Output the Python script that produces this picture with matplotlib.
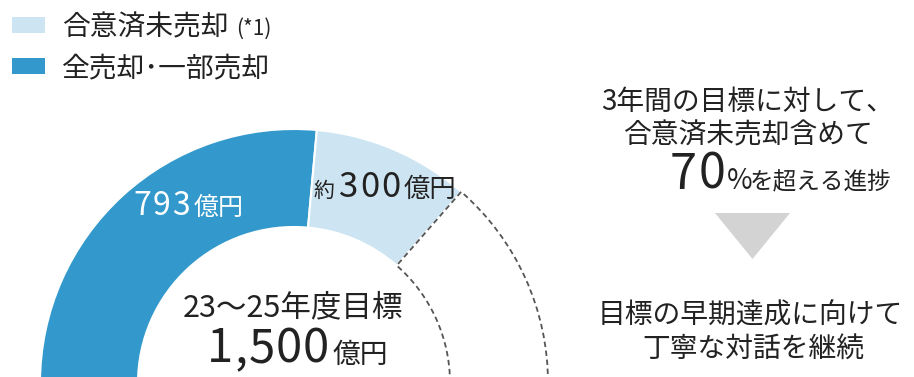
import matplotlib
matplotlib.use('Agg')
import matplotlib.pyplot as plt
from matplotlib.patches import Rectangle, Polygon

plt.rcParams['font.family'] = ['Noto Sans CJK JP', 'DejaVu Sans']

W, H, DPI = 914, 377, 100

# データ（億円）
target = 1500
sold = 793        # 全売却・一部売却
agreed = 300      # 合意済未売却（約）
remaining = target - sold - agreed

legend_labels = ['合意済未売却', '全売却･一部売却']
right_lines = ['3年間の目標に対して、', '合意済未売却含めて', '70', '%を超える進捗',
               '目標の早期達成に向けて', '丁寧な対話を継続']

BLUE = '#3399cc'
LIGHT = '#cde5f2'
TEXT = '#222222'
DASH = '#555555'
ARROW = '#d3d3d3'

fig = plt.figure(figsize=(W / DPI, H / DPI), dpi=DPI)
ax = fig.add_axes([0, 0, 1, 1])
renderer = fig.canvas.get_renderer()

# 半円ドーナツ（下半分は非表示）
wedges, _ = ax.pie([sold, agreed, remaining, target], radius=254, center=(294, H - 383),
                   startangle=180, counterclock=False,
                   colors=[BLUE, LIGHT, 'none', 'none'],
                   wedgeprops=dict(width=98, edgecolor='white', linewidth=1.5))
wedges[2].set_edgecolor(DASH)
wedges[2].set_linestyle((0, (3, 2)))
wedges[2].set_linewidth(1.3)
wedges[2].set_zorder(3)
wedges[3].set_visible(False)

ax.set_xlim(0, W)
ax.set_ylim(0, H)
ax.axis('off')


def put(x, yc, parts, color=TEXT, ha='center', ref=None):
    # parts: (文字列, サイズ, 字間, 前の余白)
    parts = [tuple(p) + (0, 2)[len(p) - 2:] if len(p) < 4 else p for p in parts]
    ref = ref or max(p[1] for p in parts)
    base = H - yc - 0.37 * ref * DPI / 72
    objs = []
    for j, (s, size, track, pre) in enumerate(parts):
        chunks = list(s) if track else [s]
        for i, ch in enumerate(chunks):
            t = ax.text(0, base, ch, fontsize=size, color=color, va='baseline', ha='left')
            before = pre if (i == 0 and j > 0) else (track if i > 0 else 0)
            objs.append((t, before))
    widths = [t.get_window_extent(renderer).width for t, _ in objs]
    total = sum(widths) + sum(b for _, b in objs)
    cur = x - total / 2 if ha == 'center' else x
    for (t, b), w in zip(objs, widths):
        cur += b
        t.set_x(cur)
        cur += w


# 凡例
ax.add_patch(Rectangle((12, H - 33), 33, 16, color=LIGHT, lw=0))
ax.add_patch(Rectangle((12, H - 74), 33, 16, color=BLUE, lw=0))
put(62, 25, [(legend_labels[0], 20, 0, 0), ('(*1)', 15, 0, 8)], ha='left', ref=20)
put(62, 66, [(legend_labels[1], 20)], ha='left')

# ドーナツ内ラベル
put(133, 204, [(f'{sold}', 23, 2), ('億円', 18, 0, 3)], color='white', ha='left', ref=22)
put(314, 185, [('約', 15), (f'{agreed}', 25, 2, 4), ('億円', 19, 0, 3)], ha='left', ref=24)
put(293, 305, [('23〜25年度目標', 22)])
put(207, 346, [(f'{target:,}', 34, 1), ('億円', 20, 0, 3)], ha='left', ref=32)

# 右側のコメント
put(748, 100, [(right_lines[0], 20)])
put(748, 133, [(right_lines[1], 20)])
put(670, 172, [(right_lines[2], 35, 2), (right_lines[3][0], 20, 0, 1),
               (right_lines[3][1:], 17, 0, -3)], ha='left', ref=33)
ax.add_patch(Polygon([(715, H - 213), (790, H - 213), (752.5, H - 259)], color=ARROW, lw=0))
put(750, 313, [(right_lines[4], 20)])
put(753, 347, [(right_lines[5], 20)])

fig.savefig('out.png', dpi=DPI)
